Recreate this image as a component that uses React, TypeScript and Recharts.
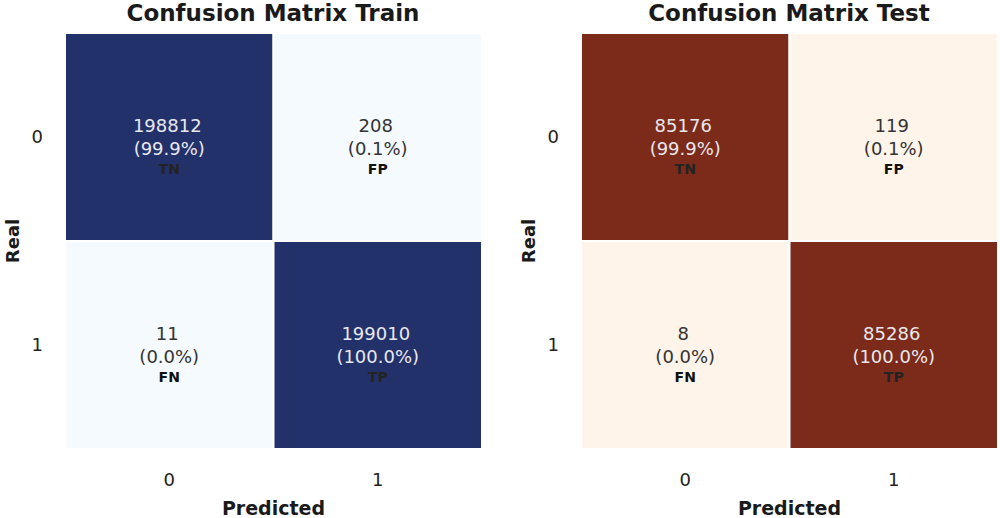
import { Bar, BarChart, Cell, LabelList, XAxis, YAxis } from "recharts";

const realLabels = ["0", "1"];
const predictedLabels = ["0", "1"];
const tags = [
  ["TN", "FP"],
  ["FN", "TP"],
];
const trainCounts = [
  [198812, 208],
  [11, 199010],
];
const testCounts = [
  [85176, 119],
  [8, 85286],
];

const FONT = "DejaVu Sans, sans-serif";

function mix(a: string, b: string, t: number) {
  const pa = [1, 3, 5].map((i) => parseInt(a.slice(i, i + 2), 16));
  const pb = [1, 3, 5].map((i) => parseInt(b.slice(i, i + 2), 16));
  const c = pa.map((v, i) => Math.round(v + (pb[i] - v) * t));
  return `rgb(${c[0]},${c[1]},${c[2]})`;
}

function Matrix({
  title,
  counts,
  light,
  dark,
  left,
}: {
  title: string;
  counts: number[][];
  light: string;
  dark: string;
  left: number;
}) {
  const max = Math.max(...counts.flat());
  const rows = realLabels.map((r) => ({ real: r, c0: 1, c1: 1 }));
  const pct = (row: number, col: number) => {
    const total = counts[row][0] + counts[row][1];
    return ((counts[row][col] / total) * 100).toFixed(1) + "%";
  };

  const cellLabel = (col: number) => (props: any) => {
    const vb = props.viewBox ?? props;
    const x = props.x ?? vb.x;
    const y = props.y ?? vb.y;
    const w = props.width ?? vb.width;
    const h = props.height ?? vb.height;
    const row = props.index;
    const cx = x + w / 2;
    const cy = y + h / 2;
    const isDark = counts[row][col] / max > 0.5;
    const txt = isDark ? "#e8e8ee" : "#333333";
    return (
      <g fontFamily={FONT} textAnchor="middle">
        <text x={cx - 2} y={cy - 5.5} fontSize={18} fill={txt}>
          {counts[row][col]}
        </text>
        <text x={cx} y={cy + 18} fontSize={18} fill={txt}>
          ({pct(row, col)})
        </text>
        <text
          x={cx}
          y={cy + 37}
          fontSize={14}
          fontWeight="bold"
          fill={isDark ? "#232323" : "#111111"}
        >
          {tags[row][col]}
        </text>
      </g>
    );
  };

  return (
    <div style={{ position: "absolute", left, top: 0, width: 500, height: 518 }}>
      <div
        style={{
          position: "absolute",
          left: 65,
          top: 0,
          width: 416,
          textAlign: "center",
          fontSize: 23,
          lineHeight: "27px",
          fontWeight: "bold",
          color: "#1a1a1a",
        }}
      >
        {title}
      </div>
      <BarChart
        width={500}
        height={518}
        data={rows}
        layout="vertical"
        barCategoryGap={0}
        margin={{ top: 33, right: 18, bottom: 0, left: 0 }}
      >
        <XAxis
          type="number"
          domain={[0, 2]}
          ticks={[0.5, 1.5]}
          tickFormatter={(v: number) => predictedLabels[Math.floor(v)]}
          height={69}
          axisLine={false}
          tickLine={false}
          tickSize={0}
          tickMargin={24}
          tick={{ fill: "#222", fontSize: 18 }}
          label={(p: any) => {
            const vb = p.viewBox;
            return (
              <text
                x={vb.x + vb.width / 2}
                y={vb.y + vb.height - 3}
                textAnchor="middle"
                fontSize={19}
                fontWeight="bold"
                fill="#1a1a1a"
              >
                Predicted
              </text>
            );
          }}
        />
        <YAxis
          type="category"
          dataKey="real"
          width={65}
          axisLine={false}
          tickLine={false}
          tickSize={0}
          tickMargin={22}
          tick={{ fill: "#222", fontSize: 18 }}
          label={(p: any) => {
            const vb = p.viewBox;
            const cy = vb.y + vb.height / 2;
            return (
              <text
                x={12}
                y={cy}
                transform={`rotate(-90 12 ${cy})`}
                textAnchor="middle"
                dominantBaseline="central"
                fontSize={18}
                fontWeight="bold"
                fill="#1a1a1a"
              >
                Real
              </text>
            );
          }}
        />
        {[0, 1].map((col) => (
          <Bar
            key={col}
            dataKey={`c${col}`}
            stackId="m"
            stroke="#ffffff"
            strokeWidth={2}
            isAnimationActive={false}
          >
            {rows.map((_, row) => (
              <Cell key={row} fill={mix(light, dark, counts[row][col] / max)} />
            ))}
            <LabelList dataKey={`c${col}`} content={cellLabel(col)} />
          </Bar>
        ))}
      </BarChart>
    </div>
  );
}

export default function App() {
  return (
    <div
      style={{
        position: "absolute",
        left: 0,
        top: 0,
        width: 1000,
        height: 518,
        overflow: "hidden",
        background: "#ffffff",
        fontFamily: FONT,
      }}
    >
      <Matrix
        title="Confusion Matrix Train"
        counts={trainCounts}
        light="#f5faff"
        dark="#23316a"
        left={0}
      />
      <Matrix
        title="Confusion Matrix Test"
        counts={testCounts}
        light="#fef4ea"
        dark="#7c2a19"
        left={516}
      />
    </div>
  );
}
